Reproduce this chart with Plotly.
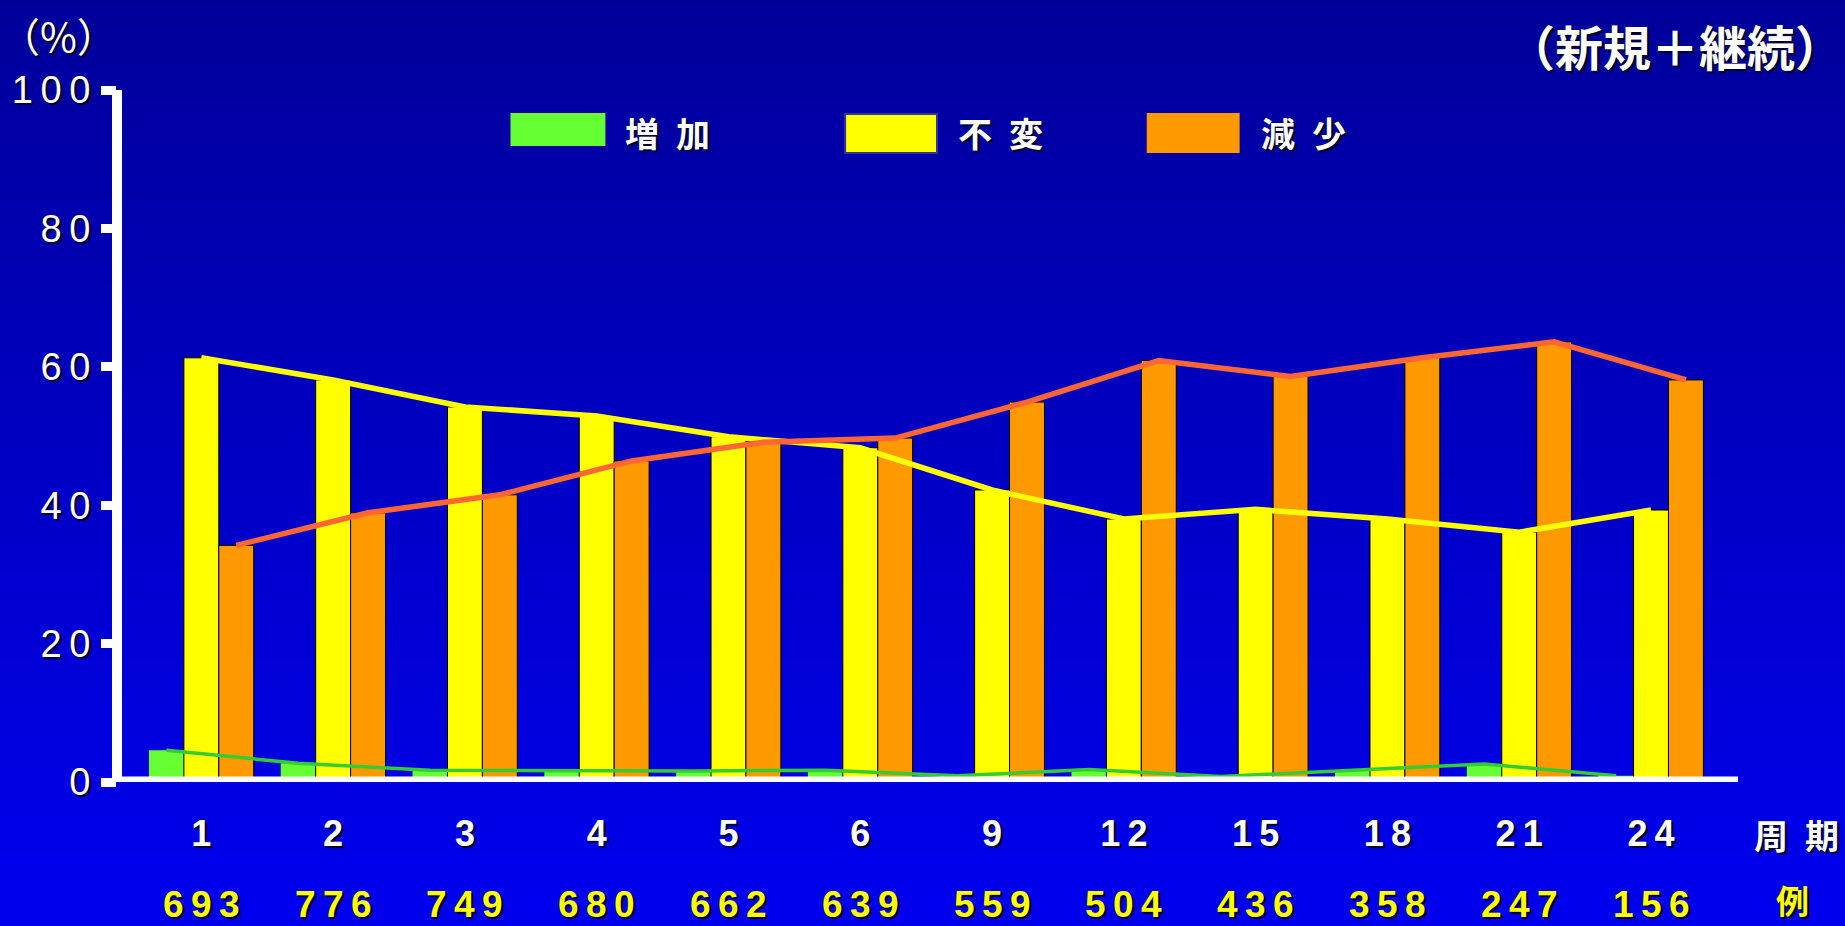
import base64
import struct
import zlib

import plotly.graph_objects as go

# ---- data -------------------------------------------------------------
periods = ["1", "2", "3", "4", "5", "6", "9", "12", "15", "18", "21", "24"]
counts = [693, 776, 749, 680, 662, 639, 559, 504, 436, 358, 247, 156]
increase = [4.6, 2.7, 1.7, 1.6, 1.6, 1.7, 0.9, 1.8, 0.8, 1.7, 2.6, 0.9]
unchanged = [61.3, 58.1, 54.2, 52.9, 49.9, 48.3, 42.2, 38.0, 39.4, 38.0, 36.1, 39.3]
decrease = [34.2, 38.9, 41.5, 46.4, 49.1, 49.7, 54.9, 60.9, 58.6, 61.3, 63.6, 58.1]
series_names = ["増加", "不変", "減少"]
y_ticks = [0, 20, 40, 60, 80, 100]

# ---- page geometry (pixels) -------------------------------------------
W, H = 1845, 926
ML, MR, MT, MB = 115, 107, 90, 144
PW, PH = W - ML - MR, H - MT - MB

THIN = "\u2009"
FONT = "Liberation Sans, Arial, Noto Sans CJK JP, sans-serif"
CJK = "Noto Sans CJK JP, sans-serif"
SHADOW = "2px 2px 1px #000022"


def px(x):
    return (x - ML) / PW


def py(y):
    return (H - MB - y) / PH


def gradient_png(top, bottom, h=256, w=2):
    rows = b""
    for i in range(h):
        t = i / (h - 1)
        c = bytes(int(round(a + (b - a) * t)) for a, b in zip(top, bottom))
        rows += b"\x00" + c * w
    def chunk(tag, data):
        return (struct.pack(">I", len(data)) + tag + data
                + struct.pack(">I", zlib.crc32(tag + data) & 0xFFFFFFFF))
    png = b"\x89PNG\r\n\x1a\n"
    png += chunk(b"IHDR", struct.pack(">IIBBBBB", w, h, 8, 2, 0, 0, 0))
    png += chunk(b"IDAT", zlib.compress(rows, 9))
    png += chunk(b"IEND", b"")
    return "data:image/png;base64," + base64.b64encode(png).decode()


idx = list(range(len(periods)))
bar_w = 0.265
offsets = [-1.5 * bar_w, -0.5 * bar_w, 0.5 * bar_w]
bar_colors = ["#66FF33", "#FFFF00", "#FF9900"]
line_colors = ["#33CC33", "#FFFF00", "#FF6633"]
line_widths = [3.5, 5.5, 5.5]
outline = [0, 1, 1]

fig = go.Figure()
for vals, off, col, ow in zip([increase, unchanged, decrease], offsets, bar_colors, outline):
    fig.add_trace(go.Bar(
        x=idx, y=vals, width=bar_w, offset=off,
        marker=dict(color=col, line=dict(color="black", width=ow)),
        showlegend=False, hoverinfo="skip",
    ))
for vals, off, col, lw in zip([increase, unchanged, decrease], offsets, line_colors, line_widths):
    fig.add_trace(go.Scatter(
        x=[i + off + bar_w / 2 for i in idx], y=vals, mode="lines",
        line=dict(color=col, width=lw), showlegend=False, hoverinfo="skip",
    ))

shapes = [
    # axis lines
    dict(type="line", xref="paper", yref="y", x0=px(110), x1=1, y0=0, y1=0,
         line=dict(color="white", width=11), layer="above"),
    dict(type="line", xref="paper", yref="y", x0=0, x1=0, y0=0, y1=100,
         line=dict(color="white", width=10), layer="above"),
]

# legend swatches
legend_boxes = [(509, 604, 113, 146, None), (844, 936, 114, 153, "#333399"), (1146, 1239, 113, 153, None)]
legend_text_x = [622, 955, 1258]
annotations = []
for (x0, x1, y0, y1, border), col, name, tx in zip(legend_boxes, bar_colors, series_names, legend_text_x):
    shapes.append(dict(type="rect", xref="paper", yref="paper",
                       x0=px(x0), x1=px(x1), y0=py(y1), y1=py(y0),
                       fillcolor=col,
                       line=dict(color=border or col, width=2 if border else 0),
                       layer="above"))
    annotations.append(dict(xref="paper", yref="paper", x=px(tx), y=py(133),
                            xanchor="left", yanchor="middle", showarrow=False,
                            text="\u2002".join(name),
                            font=dict(family=CJK, size=34, color="white",
                                      weight="bold", shadow=SHADOW)))

# case counts under each period
for i, n in zip(idx, counts):
    annotations.append(dict(xref="x", yref="paper", x=i, y=py(905),
                            xanchor="center", yanchor="middle", showarrow=False,
                            text=THIN.join(str(n)),
                            font=dict(family=FONT, size=37, color="#FFFF00",
                                      weight="bold", shadow=SHADOW)))

annotations += [
    dict(xref="paper", yref="paper", x=px(1797), y=py(834), xanchor="center",
         yanchor="middle", showarrow=False, text="周\u2002期",
         font=dict(family=CJK, size=34, color="white", weight="bold", shadow=SHADOW)),
    dict(xref="paper", yref="paper", x=px(1793), y=py(900), xanchor="center",
         yanchor="middle", showarrow=False, text="例",
         font=dict(family=CJK, size=33, color="#FFFF00", weight="bold", shadow=SHADOW)),
    dict(xref="paper", yref="paper", x=px(56), y=py(35), xanchor="center",
         yanchor="middle", showarrow=False, text="（%）",
         font=dict(family=CJK, size=40, color="white", shadow=SHADOW)),
    dict(xref="paper", yref="paper", x=px(1675), y=py(45), xanchor="center",
         yanchor="middle", showarrow=False, text="（新規＋継続）",
         font=dict(family=CJK, size=48, color="white", weight="bold", shadow=SHADOW)),
]

fig.update_layout(
    width=W, height=H,
    margin=dict(l=ML, r=MR, t=MT, b=MB, pad=0),
    paper_bgcolor="#000099", plot_bgcolor="rgba(0,0,0,0)",
    barmode="overlay",
    showlegend=False,
    shapes=shapes,
    annotations=annotations,
    images=[dict(source=gradient_png((0, 0, 153), (0, 0, 240)),
                 xref="paper", yref="paper", x=px(-6), y=py(-4),
                 sizex=(W + 12) / PW, sizey=(H + 8) / PH, sizing="stretch",
                 xanchor="left", yanchor="top", layer="below")],
    xaxis=dict(range=[-0.64, 11.66], tickmode="array", tickvals=idx,
               ticktext=[THIN.join(p) for p in periods], ticks="",
               showgrid=False, zeroline=False, showline=False,
               ticklabelstandoff=27,
               tickfont=dict(family=FONT, size=36, color="white",
                             weight="bold", shadow=SHADOW)),
    yaxis=dict(range=[0, 100], tickmode="array", tickvals=y_ticks,
               ticktext=[THIN.join(str(t)) for t in y_ticks],
               ticks="outside", ticklen=15, tickwidth=9, tickcolor="white",
               showgrid=False, zeroline=False, showline=False,
               ticklabelstandoff=3,
               tickfont=dict(family=FONT, size=38, color="white", shadow=SHADOW)),
)

fig.write_html("out.html", config={"displayModeBar": False})
